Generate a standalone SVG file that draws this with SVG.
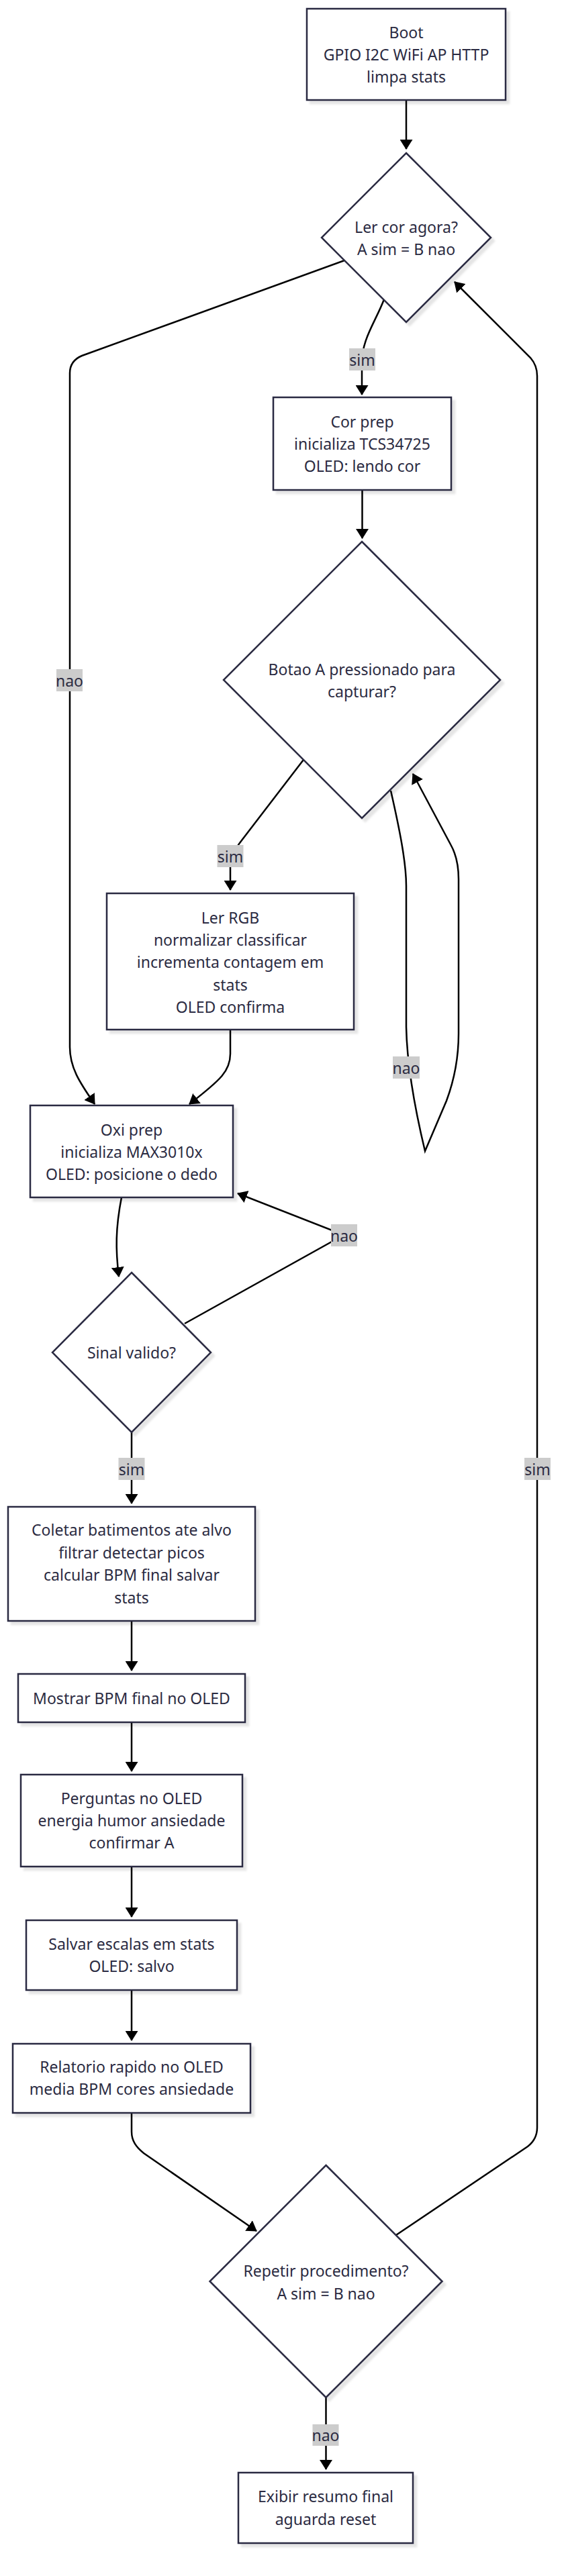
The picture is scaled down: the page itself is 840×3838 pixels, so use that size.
<svg xmlns="http://www.w3.org/2000/svg" width="840" height="3838" viewBox="0 0 840 3838">
<style>
.n{fill:#ffffff;stroke:#2b2b42;stroke-width:2.5;filter:url(#sh)}
.t{font-family:"Noto Sans","Open Sans","Liberation Sans",sans-serif;font-size:23px;fill:#2b2b42;text-anchor:middle;dominant-baseline:central}
.e{fill:none;stroke:#000000;stroke-width:2.5;marker-end:url(#ah)}
.lb{fill:#cccccc}
</style>
<defs>
<filter id="sh" x="-10%" y="-10%" width="130%" height="130%">
<feDropShadow dx="5" dy="5" stdDeviation="1.5" flood-color="#000000" flood-opacity="0.1"/>
</filter>
<marker id="ah" viewBox="0 0 15 19" refX="14" refY="9.5" markerWidth="15" markerHeight="19" markerUnits="userSpaceOnUse" orient="auto">
<path d="M0,0 L15,9.5 L0,19 z" fill="#000000"/>
</marker>
</defs>

<g id="connectors">
<path class="e" d="M605,149 L605,222"/>
<path class="e" d="M572,446 C560,478 539,505 539,540 L539,588"/>
<path class="e" d="M513,388 L122,530 C110,535 104,543 104,556 L104,1560 C104,1590 118,1612 141,1645"/>
<path class="e" d="M539.5,730 L539.5,802"/>
<path class="e" d="M452,1132 L360,1252 C349,1266 343,1278 343,1292 L343,1326"/>
<path class="e" d="M582,1178 C595,1235 605,1285 605,1320 L605,1530 C606,1580 615,1640 633,1715 L665,1640 C678,1605 683,1575 683,1540 L683,1310 C683,1288 679,1272 671,1258 L615,1153"/>
<path class="e" d="M343,1534 L343,1570 C343,1595 330,1608 282,1645"/>
<path class="e" d="M181,1784 C172,1830 172,1862 177,1902"/>
<path class="e" d="M275,1972 L512,1840 L354,1778"/>
<path class="e" d="M196,2134 L196,2240"/>
<path class="e" d="M196,2415 L196,2489"/>
<path class="e" d="M196,2566 L196,2639"/>
<path class="e" d="M196,2781 L196,2856"/>
<path class="e" d="M196,2965 L196,3040"/>
<path class="e" d="M196,3148 L196,3176 C196,3190 203,3199 214,3208 L382,3324"/>
<path class="e" d="M590,3330 L786,3198 C795,3191 800,3182 800,3170 L800,560 C800,549 797,541 790,533 L677,420"/>
<path class="e" d="M485.5,3572 L485.5,3679"/>
<g id="edge-labels">
<rect class="lb" x="520" y="519" width="39" height="33"/>
<text class="t" x="539.5" y="535.5">sim</text>
<rect class="lb" x="84" y="997" width="39" height="33"/>
<text class="t" x="103.5" y="1013.5">nao</text>
<rect class="lb" x="323.5" y="1259" width="39" height="33"/>
<text class="t" x="343" y="1275.5">sim</text>
<rect class="lb" x="585" y="1574" width="40" height="33"/>
<text class="t" x="605" y="1590.5">nao</text>
<rect class="lb" x="493" y="1824" width="39" height="33"/>
<text class="t" x="512.5" y="1840.5">nao</text>
<rect class="lb" x="176.5" y="2172" width="39" height="33"/>
<text class="t" x="196" y="2188.5">sim</text>
<rect class="lb" x="781" y="2172" width="39" height="33"/>
<text class="t" x="800.5" y="2188.5">sim</text>
<rect class="lb" x="465.5" y="3612" width="39" height="32"/>
<text class="t" x="485" y="3628">nao</text>
</g>
</g>

<g id="boot">
<rect class="n" x="457" y="13" width="296" height="136"/>
<text class="t" x="605" y="48">Boot</text>
<text class="t" x="605" y="81">GPIO I2C WiFi AP HTTP</text>
<text class="t" x="605" y="114">limpa stats</text>
</g>
<g id="ler-cor">
<polygon class="n" points="605,228 731,354 605,480 479,354"/>
<text class="t" x="605" y="338">Ler cor agora?</text>
<text class="t" x="605" y="371">A sim = B nao</text>
</g>
<g id="cor-prep">
<rect class="n" x="407" y="592" width="265" height="138"/>
<text class="t" x="539.5" y="628">Cor prep</text>
<text class="t" x="539.5" y="661">inicializa TCS34725</text>
<text class="t" x="539.5" y="694">OLED: lendo cor</text>
</g>
<g id="botao">
<polygon class="n" points="539,807 745,1013 539,1219 333,1013"/>
<text class="t" x="539" y="997">Botao A pressionado para</text>
<text class="t" x="539" y="1030">capturar?</text>
</g>
<g id="ler-rgb">
<rect class="n" x="159" y="1331" width="368" height="203"/>
<text class="t" x="343" y="1367">Ler RGB</text>
<text class="t" x="343" y="1400">normalizar classificar</text>
<text class="t" x="343" y="1433">incrementa contagem em</text>
<text class="t" x="343" y="1467">stats</text>
<text class="t" x="343" y="1500">OLED confirma</text>
</g>
<g id="oxi-prep">
<rect class="n" x="45" y="1647" width="302" height="137"/>
<text class="t" x="196" y="1683">Oxi prep</text>
<text class="t" x="196" y="1716">inicializa MAX3010x</text>
<text class="t" x="196" y="1749">OLED: posicione o dedo</text>
</g>
<g id="sinal">
<polygon class="n" points="196,1896 314,2015 196,2134 78,2015"/>
<text class="t" x="196" y="2015">Sinal valido?</text>
</g>
<g id="coletar">
<rect class="n" x="12" y="2245" width="368" height="170"/>
<text class="t" x="196" y="2279">Coletar batimentos ate alvo</text>
<text class="t" x="196" y="2313">filtrar detectar picos</text>
<text class="t" x="196" y="2346">calcular BPM final salvar</text>
<text class="t" x="196" y="2380">stats</text>
</g>
<g id="mostrar">
<rect class="n" x="27" y="2494" width="338" height="72"/>
<text class="t" x="196" y="2530">Mostrar BPM final no OLED</text>
</g>
<g id="perguntas">
<rect class="n" x="31" y="2644" width="330" height="137"/>
<text class="t" x="196" y="2679">Perguntas no OLED</text>
<text class="t" x="196" y="2712">energia humor ansiedade</text>
<text class="t" x="196" y="2745">confirmar A</text>
</g>
<g id="salvar">
<rect class="n" x="39" y="2861" width="314" height="104"/>
<text class="t" x="196" y="2896">Salvar escalas em stats</text>
<text class="t" x="196" y="2929">OLED: salvo</text>
</g>
<g id="relatorio">
<rect class="n" x="19" y="3045" width="354" height="103"/>
<text class="t" x="196" y="3079">Relatorio rapido no OLED</text>
<text class="t" x="196" y="3112">media BPM cores ansiedade</text>
</g>
<g id="repetir">
<polygon class="n" points="485.5,3226 658.5,3399 485.5,3572 312.5,3399"/>
<text class="t" x="485.5" y="3383">Repetir procedimento?</text>
<text class="t" x="485.5" y="3417">A sim = B nao</text>
</g>
<g id="exibir">
<rect class="n" x="355" y="3684" width="260" height="105"/>
<text class="t" x="485" y="3719">Exibir resumo final</text>
<text class="t" x="485" y="3753">aguarda reset</text>
</g>
</svg>
